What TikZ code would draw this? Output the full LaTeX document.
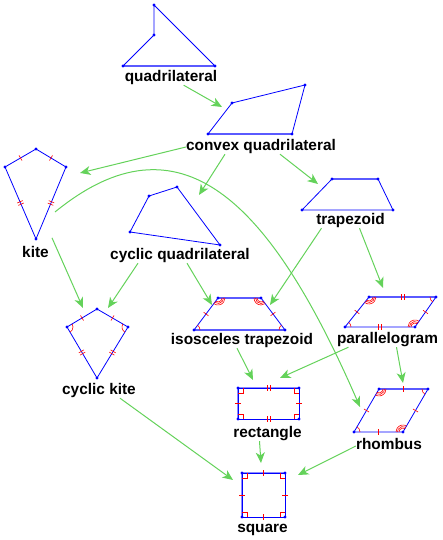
\documentclass[tikz,border=0pt]{standalone}
\usepackage{fontspec}
\setmainfont{Liberation Sans}
\usepackage{xcolor}
\usepackage{tikz}
\usetikzlibrary{arrows.meta,positioning,calc,angles,decorations.markings}
\definecolor{shapeblue}{RGB}{0,0,255}
\definecolor{lightblue}{RGB}{110,110,255}
\definecolor{arrowgreen}{RGB}{100,210,90}
\newcommand{\arcone}[3]{\pic[draw=red, line width=0.6pt, angle radius=6pt] {angle=#1--#2--#3};}
\newcommand{\arcthree}[3]{\foreach \rad in {4,5.5,7} {\pic[draw=red, line width=0.6pt, angle radius=\rad pt] {angle=#1--#2--#3};}}
\newcommand{\rang}[3]{\pic[draw=red, line width=0.6pt, angle radius=5pt] {right angle=#1--#2--#3};}

\begin{document}
\begin{tikzpicture}[x=1pt, y=1pt,
  quadline/.style={draw=shapeblue, line width=0.8pt, line join=round},
  hl/.style={draw=lightblue, line width=2pt, opacity=0.8},
  qname/.style={font=\fontsize{15.4}{18}\selectfont\bfseries, inner sep=0pt, text height=11pt, text depth=3pt},
  arrow/.style={-{Stealth[length=10.5pt, width=9pt, inset=3pt]}, draw=arrowgreen, line width=1pt},
  onetick/.style={postaction={decorate, decoration={markings, mark=at position 0.5 with {\draw[red, line width=0.6pt] (0pt,-3pt) -- (0pt,3pt);}}}},
  twotick/.style={postaction={decorate, decoration={markings, mark=at position 0.5 with {\draw[red, line width=0.6pt] (-1.3pt,-3pt) -- (-1.3pt,3pt) (1.3pt,-3pt) -- (1.3pt,3pt);}}}}
]
\useasboundingbox (0,0) rectangle (442,540);

% quadrilateral
\coordinate (qa) at (154,535); \coordinate (qb) at (154,505);
\coordinate (qc) at (123,474); \coordinate (qd) at (215,474);
\draw[hl] (qc) -- (qd);
\draw[quadline] (qa) -- (qb) -- (qc) -- (qd) -- cycle;
\node[qname] (quad) at (171,462) {quadrilateral};

% convex quadrilateral
\coordinate (ca) at (232,437); \coordinate (cb) at (305,455);
\coordinate (cc) at (292,406); \coordinate (cd) at (208,406);
\draw[hl] (cd) -- (cc);
\draw[quadline] (ca) -- (cb) -- (cc) -- (cd) -- cycle;
\node[qname] (convex) at (261,393) {convex quadrilateral};

% kite
\coordinate (ka) at (36,391); \coordinate (kb) at (66,373);
\coordinate (kc) at (36,301); \coordinate (kd) at (5,373);
\draw[quadline] (ka) -- (kb) -- (kc) -- (kd) -- cycle;
\foreach \a/\b in {ka/kb,ka/kd} \path[onetick] (\a) -- (\b);
\foreach \a/\b in {kb/kc,kd/kc} \path[twotick] (\a) -- (\b);
\node[qname] (kite) at (35.5,286) {kite};

% cyclic quadrilateral
\coordinate (ya) at (149,344); \coordinate (yb) at (177,353);
\coordinate (yc) at (220,295); \coordinate (yd) at (130,308);
\draw[quadline] (ya) -- (yb) -- (yc) -- (yd) -- cycle;
\node[qname] (cyclicq) at (180,284) {cyclic quadrilateral};

% trapezoid
\coordinate (ta) at (332,361); \coordinate (tb) at (378,361);
\coordinate (tc) at (393,330); \coordinate (td) at (302,330);
\draw[hl] (ta) -- (tb);
\draw[quadline] (ta) -- (tb) -- (tc) -- (td) -- cycle;
\node[qname] (trap) at (350.5,319) {trapezoid};

% cyclic kite
\coordinate (ea) at (97,231); \coordinate (eb) at (128,213);
\coordinate (ec) at (97,162); \coordinate (ed) at (67,213);
\draw[quadline] (ea) -- (eb) -- (ec) -- (ed) -- cycle;
\foreach \a/\b in {ea/eb,ea/ed} \path[onetick] (\a) -- (\b);
\foreach \a/\b in {eb/ec,ed/ec} \path[twotick] (\a) -- (\b);
\arcone{ea}{eb}{ec} \arcone{ec}{ed}{ea}
\node[qname] (ckite) at (99,149) {cyclic kite};

% isosceles trapezoid
\coordinate (ia) at (218,242); \coordinate (ib) at (261,242);
\coordinate (ic) at (285,210); \coordinate (id) at (194,210);
\draw[hl] (ia) -- (ib) (id) -- (ic);
\draw[quadline] (ia) -- (ib) -- (ic) -- (id) -- cycle;
\foreach \a/\b in {id/ia,ib/ic} \path[onetick] (\a) -- (\b);
\arcthree{id}{ia}{ib} \arcthree{ia}{ib}{ic}
\arcone{ib}{ic}{id} \arcone{ic}{id}{ia}
\node[qname] (isotrap) at (242,199) {isosceles trapezoid};

% parallelogram
\coordinate (pa) at (369,243); \coordinate (pb) at (436,243);
\coordinate (pc) at (415,213); \coordinate (pd) at (345,213);
\draw[hl] (pa) -- (pb);
\draw[quadline] (pa) -- (pb) -- (pc) -- (pd) -- cycle;
\foreach \a/\b in {pa/pb,pd/pc} \path[twotick] (\a) -- (\b);
\foreach \a/\b in {pd/pa,pc/pb} \path[onetick] (\a) -- (\b);
\arcthree{pd}{pa}{pb} \arcthree{pb}{pc}{pd}
\arcone{pa}{pb}{pc} \arcone{pc}{pd}{pa}
\node[qname] (para) at (387.5,200) {parallelogram};

% rectangle
\coordinate (ra) at (238,152); \coordinate (rb) at (299,152);
\coordinate (rc) at (299,121); \coordinate (rd) at (238,121);
\draw[hl] (rd) -- (ra) -- (rb);
\draw[quadline] (ra) -- (rb) -- (rc) -- (rd) -- cycle;
\foreach \a/\b in {ra/rb,rd/rc} \path[twotick] (\a) -- (\b);
\foreach \a/\b in {rd/ra,rc/rb} \path[onetick] (\a) -- (\b);
\rang{rd}{ra}{rb} \rang{ra}{rb}{rc} \rang{rb}{rc}{rd} \rang{rc}{rd}{ra}
\node[qname] (rect) at (267.5,106) {rectangle};

% rhombus
\coordinate (ha) at (379,151); \coordinate (hb) at (428,151);
\coordinate (hc) at (403,108); \coordinate (hd) at (354,108);
\draw[hl] (ha) -- (hb);
\draw[quadline] (ha) -- (hb) -- (hc) -- (hd) -- cycle;
\foreach \a/\b in {ha/hb,hd/hc,hd/ha,hc/hb} \path[onetick] (\a) -- (\b);
\arcthree{hd}{ha}{hb} \arcthree{hb}{hc}{hd}
\arcone{ha}{hb}{hc} \arcone{hc}{hd}{ha}
\node[qname] (rhomb) at (389,94) {rhombus};

% square
\coordinate (sa) at (242,67); \coordinate (sb) at (285,67);
\coordinate (sc) at (285,23); \coordinate (sd) at (242,23);
\draw[hl] (sd) -- (sa) -- (sb);
\draw[quadline] (sa) -- (sb) -- (sc) -- (sd) -- cycle;
\foreach \a/\b in {sa/sb,sd/sc,sd/sa,sc/sb} \path[onetick] (\a) -- (\b);
\rang{sd}{sa}{sb} \rang{sa}{sb}{sc} \rang{sb}{sc}{sd} \rang{sc}{sd}{sa}
\node[qname] (square) at (262.5,12) {square};

% vertices
\foreach \p in {qa,qb,qc,qd,ca,cb,cc,cd,ka,kb,kc,kd,ya,yb,yc,yd,ta,tb,tc,td,
  ea,eb,ec,ed,ia,ib,ic,id,pa,pb,pc,pd,ra,rb,rc,rd,ha,hb,hc,hd,sa,sb,sc,sd}
  \fill[shapeblue] (\p) circle (1.7pt);

% arrow ends
\coordinate (toconvex) at (222,433);
\coordinate (tokite) at (80,367);
\coordinate (tocyclic) at (199,345);
\coordinate (totrap) at (318,356);
\coordinate (curvestart) at (55,328);
\coordinate (torhombus) at (360,133);
\coordinate (tockiteA) at (83,232);
\coordinate (tockiteB) at (108,232);
\coordinate (toisoA) at (212,235);
\coordinate (toisoB) at (270,235);
\coordinate (topara) at (383,252);
\coordinate (torectA) at (253,160);
\coordinate (torectB) at (280,162);
\coordinate (torhomb) at (403,157);
\coordinate (tosquareA) at (261,77);
\coordinate (tosquareB) at (298,65);
\coordinate (tosquareC) at (233,60);

\draw[arrow] (quad) -- (toconvex);
\draw[arrow] (convex.west) -- (tokite);
\draw[arrow] ([xshift=-36pt]convex.south) -- (tocyclic);
\draw[arrow] ([xshift=19pt]convex.south) -- (totrap);
\draw[arrow] (curvestart) .. controls (180,430) and (270,340) .. (torhombus);
\draw[arrow] ([shift={(3pt,9pt)}]kite.north east) -- (tockiteA);
\draw[arrow] ([xshift=-42pt]cyclicq.south) -- (tockiteB);
\draw[arrow] ([xshift=7pt]cyclicq.south) -- (toisoA);
\draw[arrow] ([xshift=-29pt]trap.south) -- (toisoB);
\draw[arrow] ([xshift=9pt]trap.south) -- (topara);
\draw[arrow] ([xshift=-5pt]isotrap.south) -- (torectA);
\draw[arrow] ([xshift=-39pt]para.south) -- (torectB);
\draw[arrow] ([xshift=9pt]para.south) -- (torhomb);
\draw[arrow] ([xshift=-8pt]rect.south) -- (tosquareA);
\draw[arrow] (rhomb.west) -- (tosquareB);
\draw[arrow] ([xshift=21pt]ckite.south) -- (tosquareC);
\end{tikzpicture}
\end{document}
